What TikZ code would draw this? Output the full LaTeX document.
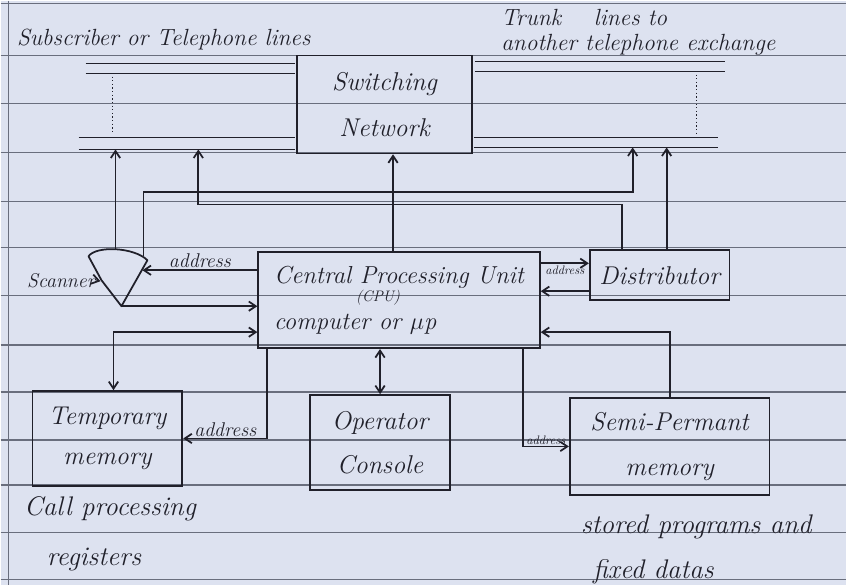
\documentclass[tikz,border=0pt]{standalone}
\usepackage{fontspec}
\usepackage{tikz}
\usetikzlibrary{arrows.meta,positioning,calc}
\definecolor{paper}{RGB}{221,226,240}
\definecolor{ink}{RGB}{32,32,42}
\definecolor{rulegray}{RGB}{105,110,125}
\newcommand\hand{\fontsize{20}{24}\selectfont\itshape}
\newcommand\handbox{\fontsize{22}{26}\selectfont\itshape}
\newcommand\handbig{\fontsize{23}{27}\selectfont\itshape}
\newcommand\handsmall{\fontsize{17}{19}\selectfont\itshape}
\newcommand\handtiny{\fontsize{10.5}{11}\selectfont\itshape}

\begin{document}
\begin{tikzpicture}[x=0.03cm, y=-0.03cm,
  box/.style={draw=ink, line width=1.5pt, align=center, font=\handbox,
              text=ink, inner sep=0pt},
  arr/.style={-{Straight Barb[length=6pt,width=8pt]}, draw=ink, line width=1.5pt},
  dbl/.style={{Straight Barb[length=6pt,width=8pt]}-{Straight Barb[length=6pt,width=8pt]},
              draw=ink, line width=1.5pt},
  wire/.style={draw=ink, line width=1.5pt},
  lbl/.style={font=\hand, text=ink, inner sep=1pt},
  note/.style={font=\handbig, text=ink, inner sep=1pt},
  small/.style={font=\handsmall, text=ink, inner sep=1pt},
  tiny/.style={font=\handtiny, text=ink, inner sep=1pt},
  ruled/.style={draw=rulegray, line width=1.1pt}
]
  % paper
  \fill[paper] (0,0) rectangle (847,585);
  \foreach \y in {3,55,103,152,201,247,295,345,392,440,485,533,580}
    \draw[ruled] (0,\y) -- (847,\y);
  \draw[ruled] (8,0) -- (8,585);

  % boxes
  \node[box, minimum width=5.25cm, minimum height=2.94cm] (sw) at (384.5,104)
       {Switching\\[14pt]Network};
  \node[box, minimum width=8.46cm, minimum height=2.88cm, align=left,
        font=\fontsize{21}{25}\selectfont\itshape] (cpu) at (399,300)
       {Central Processing Unit\\[14pt]computer or $\mu$p};
  \node[tiny, font=\fontsize{13}{14}\selectfont\itshape] (cpuabbr) at (378,298) {(CPU)};
  \node[box, minimum width=4.2cm, minimum height=1.5cm] (dist) at (660,275)
       {Distributor};
  \node[box, minimum width=4.5cm, minimum height=2.85cm] (temp) at (107,438.5)
       {Temporary\\[8pt]memory};
  \node[box, minimum width=4.2cm, minimum height=2.85cm] (op) at (380,442.5)
       {Operator\\[12pt]Console};
  \node[box, minimum width=6cm, minimum height=2.91cm] (semi) at (670,446.5)
       {Semi-Permant\\[12pt]memory};

  % subscriber and trunk lines
  \draw[wire] (85,63) -- (295,63);
  \draw[wire] (85,73) -- (295,73);
  \draw[wire] (78,137) -- (295,137);
  \draw[wire] (78,149) -- (295,149);
  \draw[wire] (475,61) -- (725,61);
  \draw[wire] (475,71) -- (725,71);
  \draw[wire] (474,137) -- (718,137);
  \draw[wire] (474,147) -- (718,147);
  \draw[ink, line width=1.1pt, dotted] (112,76) -- (112,134);
  \draw[ink, line width=1.1pt, dotted] (697,74) -- (697,133);
  \coordinate (subA) at (115,149);
  \coordinate (subB) at (198,149);
  \coordinate (tkA) at (633,147);
  \coordinate (tkB) at (667,147);

  % scanner
  \coordinate (sctl) at (88,256);
  \coordinate (sctr) at (147,260);
  \coordinate (scb) at (121,306);
  \draw[wire, line join=round] (sctl) .. controls (96,245) and (134,247) .. (sctr)
       -- (scb) -- (101,280) -- cycle;
  \coordinate (sctop) at (115,249);
  \coordinate (scup) at (143,256);
  \coordinate (scin) at (142,270);
  \coordinate (scleft) at (100,281);
  \node[small, anchor=east] (sclbl) at (96,280) {Scanner};
  \draw[arr] (sclbl.east) -- (scleft);

  % upper connections
  \draw[arr] (sctop) -- (subA);
  \draw[arr] (scup) -- (scup |- 0,192) -| (tkA);
  \draw[arr] ($(dist.north west)+(33,0)$) -- ++(0,-45) -| (subB);
  \draw[arr] (tkB |- dist.north) -- (tkB);
  \draw[arr] ([xshift=-0.18cm]cpu.north) -- ([xshift=-0.18cm]cpu.north |- sw.south);

  % scanner and cpu
  \draw[arr] (cpu.west |- scin) -- node[small, above] {address} (scin);
  \draw[arr] (scb) -- (scb -| cpu.west);
  \draw[dbl] ([xshift=0.18cm]temp.north) |- ([yshift=-0.96cm]cpu.west);

  % cpu and distributor
  \draw[arr] (cpu.east |- 0,263) -- node[tiny, below=1pt] {address} (dist.west |- 0,263);
  \draw[arr] (dist.west |- 0,291) -- (cpu.east |- 0,291);

  % lower connections
  \draw[arr] ([xshift=0.3cm]cpu.south west) |- node[small, pos=0.75, above] {address} (temp.east);
  \draw[dbl] (op.north) -- (op.north |- cpu.south);
  \draw[arr] ([xshift=-0.54cm]cpu.south east) |- node[tiny, pos=0.75, above] {address} (semi.west);
  \draw[arr] (semi.north) |- ([yshift=-0.96cm]cpu.east);

  % notes
  \node[lbl, anchor=base west] (subtxt) at (15,45) {Subscriber or Telephone lines};
  \node[lbl, anchor=base west] (trunk1) at (500,25) {Trunk\hspace{28pt}lines to};
  \node[lbl, anchor=base west] (trunk2) at (500,50) {another telephone exchange};
  \node[note, anchor=base west] (call1) at (22,516) {Call processing};
  \node[note, anchor=base west] (call2) at (45,566) {registers};
  \node[note, anchor=base west] (prog1) at (580,534) {stored programs and};
  \node[note, anchor=base west] (prog2) at (592,579) {fixed datas};
\end{tikzpicture}
\end{document}
